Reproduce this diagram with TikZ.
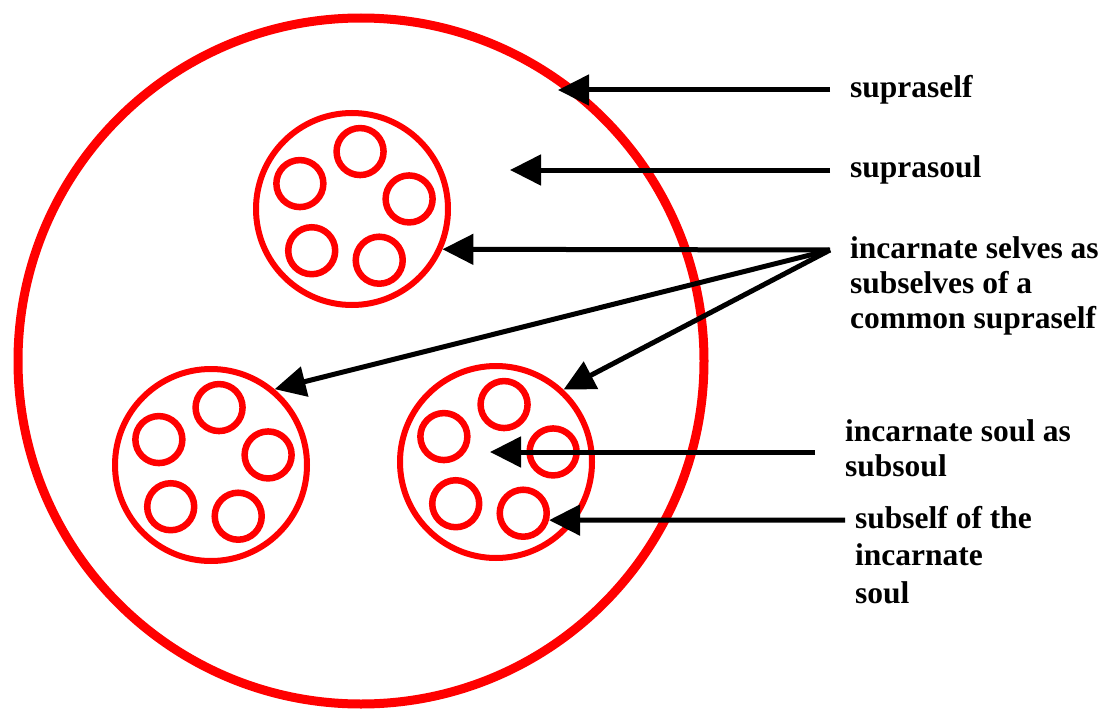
\documentclass[tikz,border=0pt]{standalone}
\usepackage{fontspec}
\setmainfont{Liberation Serif}
\usetikzlibrary{positioning, arrows.meta, calc}

\begin{document}
\begin{tikzpicture}[x=1pt, y=-1pt,
    soulring/.style={draw=red, circle, line width=6pt, minimum size=192pt, inner sep=0pt},
    selfring/.style={draw=red, circle, line width=6.5pt, minimum size=47pt, inner sep=0pt},
    pointer/.style={line width=5pt, -{Triangle[length=31pt, width=30pt]}},
    lbl/.style={inner sep=0pt, align=left, font=\bfseries\fontsize{31.5}{35}\selectfont}]
    \useasboundingbox (0,0) rectangle (1117,709);

    \node[draw=red, circle, line width=9pt, minimum size=686pt, inner sep=0pt] (supra) at (361,361) {};

    \node[soulring] (soul-a) at (352,209) {};
    \node[soulring] (soul-b) at (211,465) {};
    \node[soulring] (soul-c) at (496,462) {};
    \foreach \s in {a,b,c}
        \foreach \k in {1,...,5}
            \node[selfring] (self-\s\k) at ($(soul-\s)+({10+72*(\k-1)}:58pt)$) {};

    \node[lbl, anchor=base west] (supraself-lbl) at (850,97) {supraself};
    \node[lbl, anchor=base west] (suprasoul-lbl) at (850,177) {suprasoul};
    \node[lbl, anchor=north west] (selves-lbl) at (850,236) {incarnate selves as\\subselves of a\\common supraself};
    \node[lbl, anchor=north west] (subsoul-lbl) at (845,419) {incarnate soul as\\subsoul};
    \node[lbl, anchor=north west, font=\bfseries\fontsize{31.5}{37.5}\selectfont] (subself-lbl) at (855,506) {subself of the\\incarnate\\soul};

    \coordinate (supraself-tail) at (830,90);
    \coordinate (suprasoul-tail) at (830,170);
    \coordinate (selves-tail) at (830,250);
    \coordinate (subsoul-tail) at (815,452);
    \coordinate (subself-tail) at (845,520);
    \coordinate (supraself-tip) at (558,90);
    \coordinate (suprasoul-tip) at (510,170);
    \coordinate (subsoul-tip) at (490,452);

    \draw[pointer] (supraself-tail) -- (supraself-tip);
    \draw[pointer] (suprasoul-tail) -- (suprasoul-tip);
    \draw[pointer] (selves-tail) -- (soul-a.-24);
    \draw[pointer] (selves-tail) -- (soul-b.50);
    \draw[pointer] (selves-tail) -- (soul-c.47);
    \draw[pointer] (subsoul-tail) -- (subsoul-tip);
    \draw[pointer] (subself-tail) -- (self-c5.-15);
\end{tikzpicture}
\end{document}
